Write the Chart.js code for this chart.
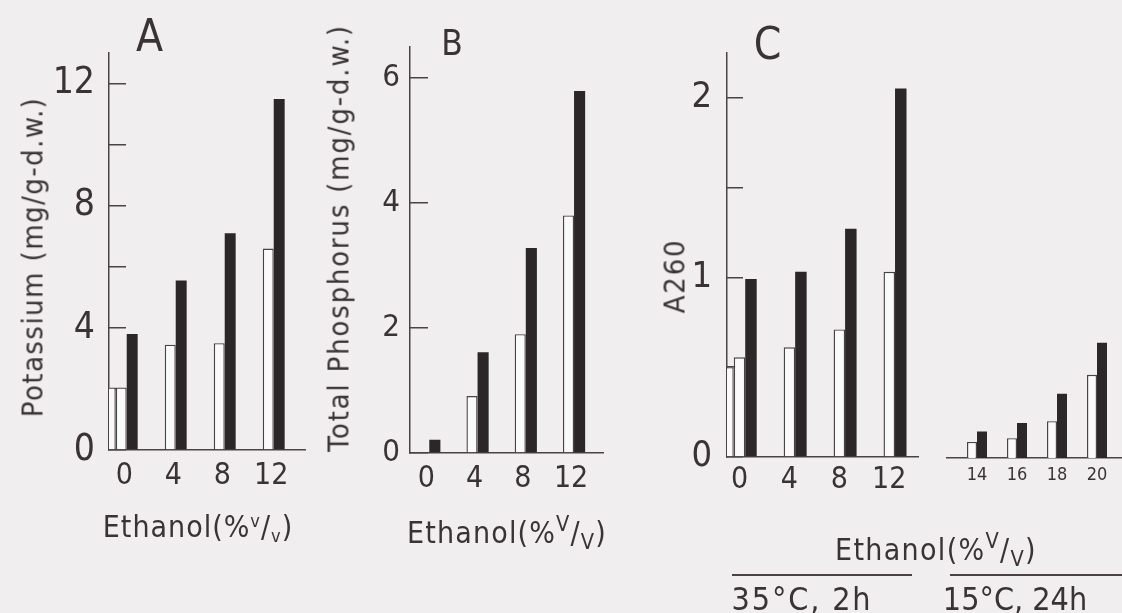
<!DOCTYPE html>
<html>
<head>
<meta charset="utf-8">
<script src="https://cdn.jsdelivr.net/npm/chart.js@4/dist/chart.umd.min.js"></script>
<style>
html, body { margin: 0; padding: 0; background: #f0eeee; }
#page { position: relative; width: 1122px; height: 613px; overflow: hidden;
  font-family: "DejaVu Sans Condensed", "Liberation Sans Narrow", "Liberation Sans", sans-serif; color: #3a3335; }
canvas { position: absolute; left: 0; top: 0; }
.t { position: absolute; white-space: nowrap; line-height: 1; transform: translate(-50%, -50%); }
.rot { transform: translate(-50%, -50%) rotate(-90deg); }
.t sup, .t sub { font-size: 0.6em; line-height: 0; }
.t sup { vertical-align: 0.55em; }
.t sub { vertical-align: -0.3em; }
.big sup, .big sub { font-size: 0.72em; }
.rule { position: absolute; height: 1.5px; background: #4a4244; }
</style>
</head>
<body>
<div id="page">
  <canvas id="chartA" width="1122" height="613"></canvas>
  <canvas id="chartB" width="1122" height="613"></canvas>
  <canvas id="chartC1" width="1122" height="613"></canvas>
  <canvas id="chartC2" width="1122" height="613"></canvas>

  <!-- panel letters -->
  <div class="t" style="left:149.5px;top:36px;font-size:44px">A</div>
  <div class="t" style="left:452px;top:43px;font-size:35px">B</div>
  <div class="t" style="left:767.5px;top:44px;font-size:44px">C</div>

  <!-- y axis titles -->
  <div class="t rot" data-w="320" style="left:33px;top:257px;font-size:29px">Potassium (mg/g-d.w.)</div>
  <div class="t rot" data-w="428" style="left:339px;top:238px;font-size:29px">Total Phosphorus (mg/g-d.w.)</div>
  <div class="t rot" data-w="75" style="left:675px;top:276px;font-size:29px">A260</div>

  <!-- x axis titles -->
  <div class="t" data-w="190" style="left:198px;top:527px;font-size:30px">Ethanol(%<sup>v</sup>/<sub>v</sub>)</div>
  <div class="t big" data-w="200" style="left:507px;top:533px;font-size:30px">Ethanol(%<sup>V</sup>/<sub>V</sub>)</div>
  <div class="t big" data-w="202" style="left:936px;top:550px;font-size:30px">Ethanol(%<sup>V</sup>/<sub>V</sub>)</div>

  <!-- condition groups under panel C -->
  <div class="rule" style="left:732px;top:574px;width:180px"></div>
  <div class="rule" style="left:950px;top:574px;width:172px"></div>
  <div class="t" data-w="141" style="left:802px;top:599px;font-size:32px">35°C, 2h</div>
  <div class="t" data-w="130" style="left:1015px;top:599px;font-size:32px">15°C, 24h</div>
</div>

<script>
// ethanol concentrations (% v/v) on the x axes
const ethanolA = [0, 4, 8, 12];
const ethanolB = [0, 4, 8, 12];
const ethanolC35 = [0, 4, 8, 12];
const ethanolC15 = [14, 16, 18, 20];

// A: potassium released (mg/g-d.w.)
const potassiumControl = [2.05, null, null, null];
const potassiumWhite = [2.05, 3.45, 3.5, 6.6];
const potassiumBlack = [3.8, 5.55, 7.1, 11.5];

// B: total phosphorus released (mg/g-d.w.)
const phosphorusWhite = [null, 0.91, 1.9, 3.8];
const phosphorusBlack = [0.21, 1.61, 3.28, 5.79];

// C: A260 of released material
const a260Control = [0.5, null, null, null];
const a260White35 = [0.555, 0.61, 0.71, 1.03];
const a260Black35 = [0.99, 1.03, 1.27, 2.05];
const a260White15 = [0.085, 0.105, 0.195, 0.44];
const a260Black15 = [0.14, 0.185, 0.34, 0.61];

// y tick values and which of them get a label
const yTicksA = [0, 2, 4, 6, 8, 10, 12];
const yLabelsA = [0, 4, 8, 12];
const yTicksB = [0, 2, 4, 6];
const yLabelsB = [0, 2, 4, 6];
const yTicksC = [0, 0.5, 1, 1.5, 2];
const yLabelsC = [0, 1, 2];

const FONT = '"DejaVu Sans Condensed", "Liberation Sans Narrow", "Liberation Sans", sans-serif';
const INK = '#3a3335';
const LINE = '#4a4244';
const BLACK_BAR = '#2b2627';
const W = 1122, H = 613, YW = 60, XH = 60;

function points(xs, ys) {
  return xs.map((x, i) => ({ x: x, y: ys[i] }));
}

function whiteSet(xs, ys) {
  return { data: points(xs, ys), backgroundColor: '#fbfafa', borderColor: LINE, borderWidth: 1.4 };
}
function blackSet(xs, ys) {
  return { data: points(xs, ys), backgroundColor: BLACK_BAR, borderWidth: 0 };
}

function panel(id, p) {
  const pad = {
    left: p.showY ? p.l - YW : p.l,
    top: p.t,
    right: W - p.r,
    bottom: H - p.b - XH
  };
  new Chart(document.getElementById(id), {
    type: 'bar',
    data: { datasets: p.sets },
    options: {
      responsive: false,
      animation: false,
      layout: { padding: pad },
      datasets: { bar: { categoryPercentage: p.catPct, barPercentage: 1 } },
      plugins: { legend: { display: false }, tooltip: { enabled: false } },
      scales: {
        x: {
          type: 'linear', min: p.xMin, max: p.xMax, offset: false, bounds: 'data',
          afterBuildTicks: s => { s.ticks = p.xs.map(v => ({ value: v })); },
          afterFit: s => { s.height = XH; },
          grid: { display: false },
          border: { display: true, color: LINE, width: 1.5 },
          ticks: { font: { family: FONT, size: p.xFont }, color: INK, padding: p.xPad,
                   labelOffset: p.labelOffset, maxRotation: 0, autoSkip: false,
                   callback: v => String(v) }
        },
        y: {
          display: p.showY, min: 0, max: p.yMax, bounds: 'data',
          afterBuildTicks: s => { s.ticks = p.yTicks.map(v => ({ value: v })); },
          afterFit: s => { s.width = p.showY ? YW : 0; },
          grid: { drawOnChartArea: false, drawTicks: true, tickLength: -p.tickLen, color: LINE, lineWidth: 1.5 },
          border: { display: true, color: LINE, width: 1.5 },
          ticks: { font: { family: FONT, size: p.yFont }, color: INK, padding: p.gap + p.tickLen,
                   autoSkip: false, callback: v => p.yLabels.includes(v) ? String(v) : '' }
        }
      }
    }
  });
}

panel('chartA', {
  l: 109, t: 24.25, r: 305, b: 450, showY: true,
  xs: ethanolA, xMin: -1, xMax: 15, catPct: 0.67,
  yMax: 13, yTicks: yTicksA, yLabels: yLabelsA,
  xFont: 30, xPad: 0, labelOffset: 3, yFont: 37, tickLen: 17, gap: 14,
  sets: [whiteSet(ethanolA, potassiumControl), whiteSet(ethanolA, potassiumWhite), blackSet(ethanolA, potassiumBlack)]
});

panel('chartB', {
  l: 410, t: 30.5, r: 603, b: 453, showY: true,
  xs: ethanolB, xMin: -1.6, xMax: 14.4, catPct: 0.46,
  yMax: 6.5, yTicks: yTicksB, yLabels: yLabelsB,
  xFont: 30, xPad: 0, labelOffset: -3, yFont: 31, tickLen: 18, gap: 10,
  sets: [whiteSet(ethanolB, phosphorusWhite), blackSet(ethanolB, phosphorusBlack)]
});

panel('chartC1', {
  l: 727, t: 32, r: 918, b: 457, showY: true,
  xs: ethanolC35, xMin: -1, xMax: 14.3, catPct: 0.69,
  yMax: 2.25, yTicks: yTicksC, yLabels: yLabelsC,
  xFont: 30, xPad: -3, labelOffset: 0, yFont: 36, tickLen: 16, gap: 15,
  sets: [whiteSet(ethanolC35, a260Control), whiteSet(ethanolC35, a260White35), blackSet(ethanolC35, a260Black35)]
});

panel('chartC2', {
  l: 947, t: 32.75, r: 1122, b: 458, showY: false,
  xs: ethanolC15, xMin: 12.5, xMax: 21.25, catPct: 0.5,
  yMax: 2.25, yTicks: yTicksC, yLabels: yLabelsC,
  xFont: 18, xPad: -1, labelOffset: 0, yFont: 36, tickLen: 16, gap: 15,
  sets: [whiteSet(ethanolC15, a260White15), blackSet(ethanolC15, a260Black15)]
});

// spread the wide lettering of the original over the measured lengths
document.querySelectorAll('[data-w]').forEach(el => {
  const n = el.textContent.length;
  const spare = Number(el.dataset.w) - el.offsetWidth;
  el.style.letterSpacing = Math.max(spare / n, 0) + 'px';
});
</script>
</body>
</html>
